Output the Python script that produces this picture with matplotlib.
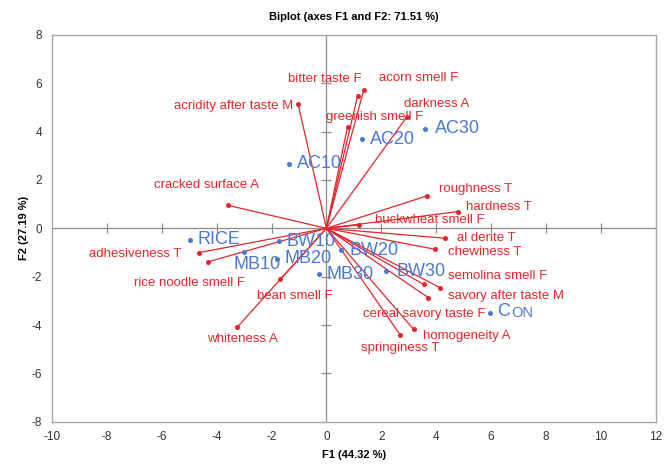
import numpy as np
import matplotlib.pyplot as plt

# ---------- data ----------
var_names = ["acridity after taste M", "bitter taste F", "acorn smell F", "greenish smell F",
             "darkness A", "cracked surface A", "roughness T", "hardness T",
             "buckwheat smell F", "al dente T", "chewiness T", "semolina smell F",
             "savory after taste M", "cereal savory taste F", "homogeneity A",
             "springiness T", "adhesiveness T", "rice noodle smell F", "bean smell F",
             "whiteness A"]
var_f1 = [-1.03, 1.14, 1.36, 0.77, 2.94, -3.59, 3.66, 4.78, 1.20, 4.33, 3.97, 4.15,
          3.54, 3.72, 3.18, 2.69, -4.66, -4.33, -1.68, -3.26]
var_f2 = [5.13, 5.49, 5.72, 4.20, 4.62, 0.95, 1.34, 0.69, 0.14, -0.41, -0.87, -2.46,
          -2.32, -2.87, -4.18, -4.41, -1.01, -1.39, -2.11, -4.10]

obs_names = ["AC10", "AC20", "AC30", "RICE", "BW10", "MB10", "MB20", "MB30", "BW20", "BW30", "CON"]
obs_f1 = [-1.38, 1.30, 3.58, -4.98, -1.74, -3.00, -1.80, -0.28, 0.52, 2.18, 5.97]
obs_f2 = [2.67, 3.68, 4.12, -0.48, -0.53, -0.98, -1.28, -1.89, -0.90, -1.77, -3.49]

x_ticks = list(range(-10, 13, 2))
y_ticks = list(range(-8, 9, 2))

# label placement (pixel offsets from the point, alignment)
var_lab = {
    "acridity after taste M": (-5, -2, "right"),
    "bitter taste F": (-33, 17, "center"),
    "acorn smell F": (15, 12, "left"),
    "greenish smell F": (27, 10, "center"),
    "darkness A": (-3, 13, "left"),
    "cracked surface A": (-21, 20, "center"),
    "roughness T": (12, 7, "left"),
    "hardness T": (8, 5, "left"),
    "buckwheat smell F": (16, 5, "left"),
    "al dente T": (12, 0, "left"),
    "chewiness T": (13, -3, "left"),
    "semolina smell F": (8, 12, "left"),
    "savory after taste M": (24, -12, "left"),
    "cereal savory taste F": (-4, -16, "center"),
    "homogeneity A": (9, -7, "left"),
    "springiness T": (0, -13, "center"),
    "adhesiveness T": (-17, -1, "right"),
    "rice noodle smell F": (-18, -21, "center"),
    "bean smell F": (15, -17, "center"),
    "whiteness A": (5, -12, "center"),
}
obs_lab = {"AC10": (8, 0), "AC20": (8, 0), "AC30": (10, 0), "RICE": (8, 0), "BW10": (8, 0),
           "MB10": (-11, -12), "MB20": (7, 1), "MB30": (8, 0), "BW20": (9, 0),
           "BW30": (10, 0), "CON": (7, 1)}

RED = "#E3262B"
BLUE = "#4A78D6"
GRAY = "#8C8C8C"

plt.rcParams["font.family"] = ["Liberation Sans Narrow", "Liberation Sans", "DejaVu Sans"]
plt.rcParams["axes.unicode_minus"] = False

fig = plt.figure(figsize=(6.67, 4.65), dpi=100)
ax = fig.add_axes([0.078, 0.093, 0.905, 0.832])
ax.set_xlim(-10, 12)
ax.set_ylim(-8, 8)
ax.set_xticks(x_ticks)
ax.set_yticks(y_ticks)
ax.tick_params(length=0, pad=7, labelsize=8.5, colors="#333333")
for s in ax.spines.values():
    s.set_color("#A6A6A6")
    s.set_linewidth(1.0)

# zero lines with tick crosses
ax.axhline(0, color=GRAY, lw=0.9, zorder=1)
ax.axvline(0, color=GRAY, lw=0.9, zorder=1)
xt = [t for t in x_ticks if t not in (0, -10, 12)]
yt = [t for t in y_ticks if t not in (0, -8, 8)]
ax.plot(xt, np.zeros(len(xt)), ls="none", marker="|", ms=7, mew=0.9, color=GRAY, zorder=1)
ax.plot(np.zeros(len(yt)), yt, ls="none", marker="_", ms=7, mew=0.9, color=GRAY, zorder=1)

# variable vectors
for n, x, y in zip(var_names, var_f1, var_f2):
    ax.plot([0, x], [0, y], color=RED, lw=0.9, zorder=2)
    ax.plot(x, y, "o", color=RED, ms=2.6, zorder=3)
    dx, dy, ha = var_lab[n]
    ax.annotate(n, (x, y), xytext=(dx, dy), textcoords="offset pixels",
                ha=ha, va="center", color=RED, fontsize=9.5, zorder=4)

# observations
ax.plot(obs_f1, obs_f2, "o", ls="none", color=BLUE, ms=2.6, zorder=3)
for n, x, y in zip(obs_names, obs_f1, obs_f2):
    dx, dy = obs_lab[n]
    if n == "CON":
        # small-caps look: large C, smaller ON
        c = ax.annotate("C", (x, y), xytext=(dx, dy), textcoords="offset pixels",
                        ha="left", va="center", color=BLUE, fontsize=13, zorder=4)
        ax.annotate("ON", (1, 0), xycoords=c, xytext=(0.5, 0), textcoords="offset points",
                    ha="left", va="bottom", color=BLUE, fontsize=10.5, zorder=4)
    else:
        ax.annotate(n, (x, y), xytext=(dx, dy), textcoords="offset pixels",
                    ha="left", va="center", color=BLUE, fontsize=13, zorder=4)

ax.set_title("Biplot (axes F1 and F2: 71.51 %)", fontsize=8, fontweight="bold", pad=11)
ax.set_xlabel("F1 (44.32 %)", fontsize=8, fontweight="bold", labelpad=5)
ax.set_ylabel("F2 (27.19 %)", fontsize=8, fontweight="bold", labelpad=2)

fig.savefig("out.png", dpi=100)
